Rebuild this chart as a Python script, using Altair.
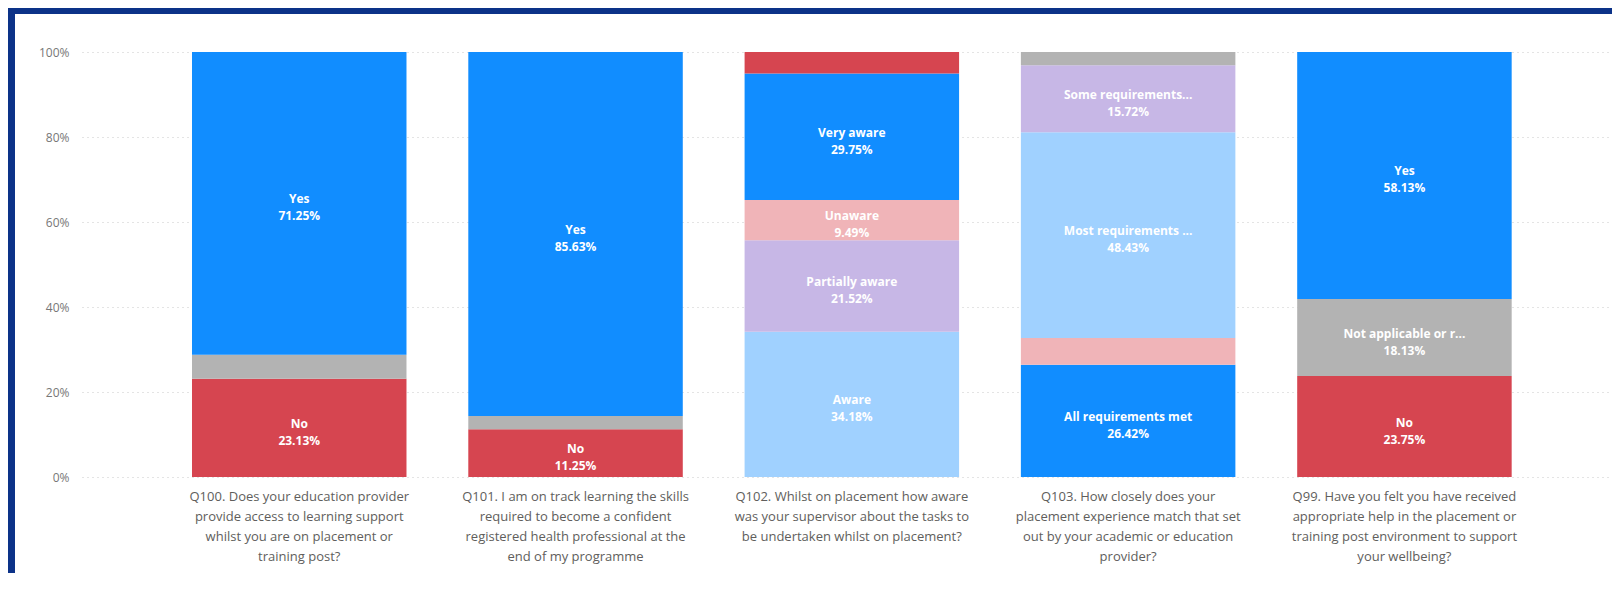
import altair as alt
import pandas as pd

# ---- data ----
QUESTION_LINES = [
    ["Q100. Does your education provider", "provide access to learning support",
     "whilst you are on placement or", "training post?"],
    ["Q101. I am on track learning the skills", "required to become a confident",
     "registered health professional at the", "end of my programme"],
    ["Q102. Whilst on placement how aware", "was your supervisor about the tasks to",
     "be undertaken whilst on placement?"],
    ["Q103. How closely does your", "placement experience match that set",
     "out by your academic or education", "provider?"],
    ["Q99. Have you felt you have received", "appropriate help in the placement or",
     "training post environment to support", "your wellbeing?"],
]
QUESTIONS = ["\n".join(lines) for lines in QUESTION_LINES]

SEG_QUESTION = [0, 0, 0,
                1, 1, 1,
                2, 2, 2, 2, 2,
                3, 3, 3, 3, 3,
                4, 4, 4]
SEG_ANSWER = ["No", "Not applicable or relevant", "Yes",
              "No", "Not applicable or relevant", "Yes",
              "Aware", "Partially aware", "Unaware", "Very aware", "Very unaware",
              "All requirements met", "Few requirements met", "Most requirements met",
              "Some requirements met", "Unsure",
              "No", "Not applicable or relevant", "Yes"]
SEG_VALUE = [23.13, 5.62, 71.25,
             11.25, 3.12, 85.63,
             34.18, 21.52, 9.49, 29.75, 5.06,
             26.42, 6.29, 48.43, 15.72, 3.14,
             23.75, 18.13, 58.13]
SEG_LABEL = ["No", "", "Yes",
             "No", "", "Yes",
             "Aware", "Partially aware", "Unaware", "Very aware", "",
             "All requirements met", "", "Most requirements ...", "Some requirements...", "",
             "No", "Not applicable or r...", "Yes"]

ANSWER_DOMAIN = ["Yes", "No", "Not applicable or relevant",
                 "Aware", "Partially aware", "Unaware", "Very aware", "Very unaware",
                 "All requirements met", "Few requirements met", "Most requirements met",
                 "Some requirements met", "Unsure"]
ANSWER_COLORS = ["#118DFF", "#D64550", "#B3B3B3",
                 "#A0D1FF", "#C7B7E6", "#F0B4B8", "#118DFF", "#D64550",
                 "#118DFF", "#F0B4B8", "#A0D1FF", "#C7B7E6", "#B3B3B3"]

df = pd.DataFrame({
    "question": [QUESTIONS[i] for i in SEG_QUESTION],
    "answer": SEG_ANSWER,
    "value": SEG_VALUE,
    "label": SEG_LABEL,
})

FONT = "Open Sans"
NAVY = "#0C3288"
W, H = 1530, 425
PAD = {"left": 74, "top": 44, "right": 0, "bottom": 96}

x_enc = alt.X(
    "question:N", sort=QUESTIONS, title=None,
    scale=alt.Scale(paddingInner=0.2237, paddingOuter=0.3806, align=0.523),
    axis=alt.Axis(labelAngle=0, domain=False, ticks=False, labelPadding=13,
                  labelFontSize=13, labelLineHeight=20, labelColor="#605E5C",
                  labelLimit=0, labelFont=FONT, grid=False,
                  labelExpr="split(datum.label, '\\n')"),
)

base = (
    alt.Chart(df)
    .transform_stack(stack="value", groupby=["question"], as_=["v0", "v1"],
                     sort=[alt.SortField("answer", order="ascending")])
    .transform_calculate(mid="(datum.v0 + datum.v1) / 2",
                         pct="format(datum.value, '.2f') + '%'")
)

bars = base.mark_bar().encode(
    x=x_enc,
    y=alt.Y("v0:Q", title=None,
            scale=alt.Scale(domain=[0, 100], nice=False),
            axis=alt.Axis(values=[0, 20, 40, 60, 80, 100], labelExpr="datum.value + '%'",
                          domain=False, ticks=False, labelPadding=13,
                          labelFontSize=12, labelColor="#777777", labelFont=FONT,
                          grid=True, gridColor="#C8C8C8", gridDash=[1, 4], gridWidth=1)),
    y2="v1:Q",
    color=alt.Color("answer:N", scale=alt.Scale(domain=ANSWER_DOMAIN, range=ANSWER_COLORS),
                    legend=None),
)

labelled = base.transform_filter("datum.label != ''")
names = labelled.mark_text(dy=-4, color="white", fontSize=12, fontWeight="bold",
                           font=FONT, baseline="middle").encode(
    x=alt.X("question:N", sort=QUESTIONS), y=alt.Y("mid:Q"), text="label:N")
pcts = labelled.mark_text(dy=13, color="white", fontSize=12, fontWeight="bold",
                          font=FONT, baseline="middle").encode(
    x=alt.X("question:N", sort=QUESTIONS), y=alt.Y("mid:Q"), text="pct:N")

# decorative report frame (left and top edges), kept inside the chart's canvas
frame_left = alt.Chart(alt.Data(values=[{}])).mark_rect(color=NAVY, strokeWidth=0).encode(
    x=alt.value(-PAD["left"]), x2=alt.value(-67),
    y=alt.value(-PAD["top"]), y2=alt.value(H + PAD["bottom"]))
frame_top = alt.Chart(alt.Data(values=[{}])).mark_rect(color=NAVY, strokeWidth=0).encode(
    x=alt.value(-PAD["left"]), x2=alt.value(W),
    y=alt.value(-PAD["top"]), y2=alt.value(-38))

chart = (
    alt.layer(bars, names, pcts, frame_left, frame_top)
    .properties(width=W, height=H, padding=PAD,
                autosize=alt.AutoSizeParams(type="none"),
                background="white")
    .configure_view(stroke=None)
)

chart.save("out.html", embed_options={"renderer": "svg", "actions": False})
